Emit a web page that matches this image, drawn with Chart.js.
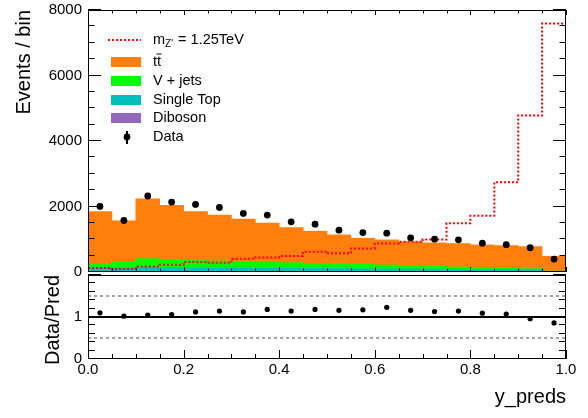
<!DOCTYPE html>
<html>
<head>
<meta charset="utf-8">
<script src="https://cdn.jsdelivr.net/npm/chart.js@4.4.0/dist/chart.umd.min.js"></script>
<style>
html, body { margin: 0; padding: 0; background: #fff; }
#wrap { position: relative; width: 588px; height: 418px; overflow: hidden; }
canvas { position: absolute; left: 0; }
#ratio { top: 271px; }
#hist { top: 0; }
</style>
</head>
<body>
<div id="wrap">
<canvas id="ratio" width="588" height="147"></canvas>
<canvas id="hist" width="588" height="282"></canvas>
</div>
<script>
// bins of y_preds
const binEdges = [0, 0.05, 0.1, 0.15, 0.2, 0.25, 0.3, 0.35, 0.4, 0.45, 0.5, 0.55, 0.6, 0.65, 0.7, 0.75, 0.8, 0.85, 0.9, 0.95, 1];

// backgrounds (stacked, bottom to top)
const diboson = [8, 9, 10, 9, 8, 8, 8, 7, 7, 7, 6, 6, 6, 6, 5, 5, 5, 5, 4, 1];
const singleTop = [113, 122, 140, 116, 112, 112, 107, 105, 103, 101, 98, 94, 90, 86, 83, 79, 75, 71, 68, 11];
const vjets = [111, 173, 256, 250, 230, 215, 208, 192, 174, 155, 149, 133, 117, 100, 84, 68, 51, 45, 29, 18];
const ttbar = [1616, 1259, 1831, 1658, 1498, 1402, 1291, 1187, 1074, 983, 881, 799, 768, 728, 717, 716, 697, 686, 675, 450];

// signal m_Z' = 1.25 TeV
const signal = [122, 95, 168, 220, 302, 283, 405, 445, 485, 620, 570, 720, 868, 920, 990, 1490, 1720, 2740, 4780, 7590];

// data and data/pred
const dataCounts = [2002, 1573, 2320, 2136, 2064, 1972, 1788, 1737, 1532, 1461, 1277, 1205, 1185, 1042, 1001, 981, 879, 833, 740, 395];
const ratio = [1.10, 1.02, 1.045, 1.06, 1.12, 1.14, 1.12, 1.18, 1.14, 1.18, 1.16, 1.17, 1.23, 1.16, 1.13, 1.14, 1.09, 1.07, 0.96, 0.86];
const ratioLines = [0.5, 1, 1.5];

// axes
const yTicksTop = [0, 2000, 4000, 6000, 8000];
const yTicksRatio = [0, 1];
const xTicks = [0, 0.2, 0.4, 0.6, 0.8, 1];
const xTickLabels = ['0.0', '0.2', '0.4', '0.6', '0.8', '1.0'];

const FONT = 'Liberation Sans';
Chart.defaults.font.family = FONT;
Chart.defaults.color = '#000';

const centres = binEdges.slice(0, -1).map((e, i) => (e + binEdges[i + 1]) / 2);
const pts = vals => vals.map((y, i) => ({ x: centres[i], y }));
const nb = signal.length;
const signalSteps = [{ x: binEdges[0], y: 0 }]
    .concat(signal.map((y, i) => ({ x: binEdges[i], y })))
    .concat([{ x: binEdges[nb], y: signal[nb - 1] }, { x: binEdges[nb], y: 0 }]);

const couleurs = { tt: '#ff7f0e', vj: '#00ff00', st: '#00bfbf', db: '#9467bd', sig: '#ff0000' };

// frame + ROOT style inner ticks
function cadre(cfg) {
    return {
        id: 'cadre',
        afterDatasetsDraw(chart) {
            const { ctx, chartArea: a, scales } = chart;
            const sx = scales.x, sy = scales.y;
            ctx.save();
            ctx.strokeStyle = '#000';
            ctx.lineWidth = 1;
            ctx.beginPath();
            binEdges.forEach(v => {
                const len = xTicks.includes(v) ? cfg.xMaj : cfg.xMin;
                const x = Math.round(sx.getPixelForValue(v)) + 0.5;
                ctx.moveTo(x, a.bottom); ctx.lineTo(x, a.bottom - len);
                if (cfg.top) { ctx.moveTo(x, a.top); ctx.lineTo(x, a.top + len); }
            });
            for (let v = sy.min; v <= sy.max + 1e-9; v += cfg.yStep) {
                const q = v / cfg.yMajStep;
                const len = Math.abs(q - Math.round(q)) < 1e-6 ? cfg.yMaj : cfg.yMin;
                const y = Math.round(sy.getPixelForValue(v)) - 0.5;
                ctx.moveTo(a.left, y); ctx.lineTo(a.left + len, y);
                ctx.moveTo(a.right, y); ctx.lineTo(a.right - len, y);
            }
            ctx.stroke();
            ctx.strokeRect(a.left + 0.5, a.top + 0.5, a.right - a.left - 1, a.bottom - a.top - 1);
            ctx.restore();
        }
    };
}

function titreY(ctx, txt, x, y) {
    ctx.save();
    ctx.translate(x, y);
    ctx.rotate(-Math.PI / 2);
    ctx.font = '20px ' + FONT;
    ctx.fillStyle = '#000';
    ctx.textAlign = 'right';
    ctx.textBaseline = 'middle';
    ctx.fillText(txt, 0, 0);
    ctx.restore();
}

// legend, drawn like the ROOT TLegend
const legende = {
    id: 'legende',
    afterDraw(chart) {
        const ctx = chart.ctx;
        const ds = chart.data.datasets;
        const tx = 153;
        ctx.save();
        ctx.font = '14.5px ' + FONT;
        ctx.fillStyle = '#000';
        ctx.textBaseline = 'middle';
        ctx.textAlign = 'left';

        // signal
        ctx.strokeStyle = ds[1].borderColor;
        ctx.lineWidth = 2;
        ctx.setLineDash([2, 2]);
        ctx.beginPath(); ctx.moveTo(108, 40); ctx.lineTo(141, 40); ctx.stroke();
        ctx.setLineDash([]);
        let x = tx;
        ctx.fillText('m', x, 40); x += ctx.measureText('m').width;
        ctx.font = '10px ' + FONT;
        ctx.fillText("Z'", x, 44); x += ctx.measureText("Z'").width + 1;
        ctx.font = '14.5px ' + FONT;
        ctx.fillText(' = 1.25TeV', x, 40);

        // boxes
        const boxes = [[5, 62], [4, 81], [3, 100], [2, 118]];
        boxes.forEach(([i, y]) => {
            ctx.fillStyle = ds[i].backgroundColor;
            ctx.fillRect(111, y - 5, 30, 10);
            ctx.fillStyle = '#000';
            if (i === 5) {
                ctx.fillText('tt', tx, y);
                const w1 = ctx.measureText('t').width;
                ctx.fillRect(tx + w1 - 0.5, y - 8.5, w1 + 1, 1);
            } else {
                ctx.fillText(ds[i].label, tx, y);
            }
        });

        // data
        ctx.fillRect(126, 131, 2, 13);
        ctx.beginPath(); ctx.arc(127, 137, 3.4, 0, 2 * Math.PI); ctx.fill();
        ctx.fillText('Data', tx, 137);
        ctx.restore();

        titreY(ctx, 'Events / bin', 24, 10);
    }
};

const titresRatio = {
    id: 'titresRatio',
    afterDraw(chart) {
        const ctx = chart.ctx;
        titreY(ctx, 'Data/Pred', 53, 4);
        ctx.save();
        ctx.font = '20px ' + FONT;
        ctx.fillStyle = '#000';
        ctx.textAlign = 'right';
        ctx.textBaseline = 'alphabetic';
        ctx.fillText('y_preds', chart.chartArea.right, 132);
        ctx.restore();
    }
};

const largeurY = s => { s.width = 88; s.paddingTop = 0; s.paddingBottom = 0; };

new Chart(document.getElementById('hist'), {
    type: 'bar',
    data: {
        datasets: [
            { type: 'line', label: 'Data', data: pts(dataCounts), showLine: false, pointRadius: 3.4,
              pointBackgroundColor: '#000', pointBorderWidth: 0, stack: 'data' },
            { type: 'line', label: "m_Z' = 1.25TeV", data: signalSteps, stepped: true, borderColor: couleurs.sig,
              borderWidth: 2, borderDash: [2, 2], pointRadius: 0, fill: false, stack: 'signal' },
            { label: 'Diboson', data: pts(diboson), backgroundColor: couleurs.db },
            { label: 'Single Top', data: pts(singleTop), backgroundColor: couleurs.st },
            { label: 'V + jets', data: pts(vjets), backgroundColor: couleurs.vj },
            { label: 'tt', data: pts(ttbar), backgroundColor: couleurs.tt }
        ]
    },
    options: {
        responsive: false,
        animation: false,
        events: [],
        layout: { padding: { left: 0, right: 22, top: 10, bottom: 10 } },
        datasets: { bar: { barPercentage: 1, categoryPercentage: 1, borderWidth: 0 } },
        plugins: { legend: { display: false }, tooltip: { enabled: false } },
        scales: {
            x: { type: 'linear', min: 0, max: 1, offset: false, stacked: true, display: false },
            y: {
                type: 'linear', min: 0, max: 8000, stacked: true,
                grid: { display: false, drawTicks: false },
                border: { display: false },
                afterBuildTicks: s => { s.ticks = yTicksTop.map(v => ({ value: v })); },
                afterFit: largeurY,
                ticks: { padding: 6, font: { size: 15 }, color: '#000', callback: v => String(v) }
            }
        }
    },
    plugins: [cadre({ top: true, xMaj: 5, xMin: 3.5, yStep: 500, yMajStep: 2000, yMaj: 13, yMin: 6.5 }), legende]
});

new Chart(document.getElementById('ratio'), {
    type: 'line',
    data: {
        datasets: [
            { label: 'Data/Pred', data: pts(ratio), showLine: false, pointRadius: 2.6,
              pointBackgroundColor: '#000', pointBorderWidth: 0 },
            ...ratioLines.map(r => ({
                label: 'ref ' + r,
                data: [{ x: binEdges[0], y: r }, { x: binEdges[nb], y: r }],
                borderColor: r === 1 ? '#000' : '#444',
                borderWidth: r === 1 ? 2 : 1,
                borderDash: r === 1 ? [] : [3, 3],
                pointRadius: 0
            }))
        ]
    },
    options: {
        responsive: false,
        animation: false,
        events: [],
        layout: { padding: { left: 0, right: 22, top: 1, bottom: 0 } },
        plugins: { legend: { display: false }, tooltip: { enabled: false } },
        scales: {
            x: {
                type: 'linear', min: 0, max: 1, offset: false,
                grid: { display: false, drawTicks: false },
                border: { display: false },
                afterBuildTicks: s => { s.ticks = xTicks.map(v => ({ value: v })); },
                afterFit: s => { s.height = 59; s.paddingLeft = 0; s.paddingRight = 0; },
                ticks: { padding: 2, maxRotation: 0, autoSkip: false, font: { size: 15 }, color: '#000',
                         callback: (v, i) => xTickLabels[i] }
            },
            y: {
                type: 'linear', min: 0, max: 2,
                grid: { display: false, drawTicks: false },
                border: { display: false },
                afterBuildTicks: s => { s.ticks = yTicksRatio.map(v => ({ value: v })); },
                afterFit: largeurY,
                ticks: { padding: 6, font: { size: 15 }, color: '#000', callback: v => String(v) }
            }
        }
    },
    plugins: [cadre({ top: false, xMaj: 9, xMin: 5, yStep: 0.2, yMajStep: 1, yMaj: 13, yMin: 7 }), titresRatio]
});
</script>
</body>
</html>
